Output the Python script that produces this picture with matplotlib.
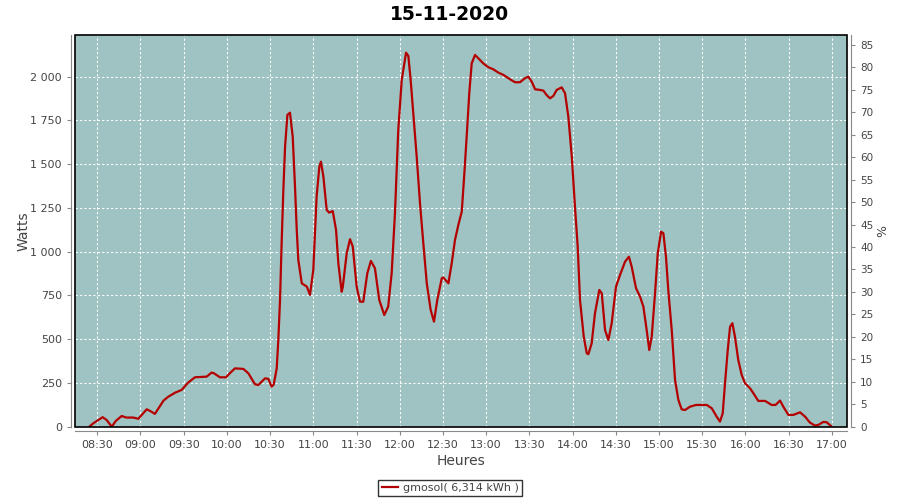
import pandas as pd
import matplotlib
matplotlib.use('Agg')
import matplotlib.pyplot as plt
import matplotlib.dates as mdates
from matplotlib.patches import Rectangle
from matplotlib.ticker import FuncFormatter

# minutes après 08:30 et puissance (W)
minutes = [-5.5, -2.8, 3.7, 6.5, 10, 13, 17, 20, 25, 28.5, 34.3, 36.6, 40, 46, 49.3, 54, 58.6, 63, 67.8,
           76, 79.4, 81, 85.2, 89.4, 92, 95.6, 101.4, 104.9, 109.5, 111.8, 116.5, 118.8, 121, 122.5,
           124.6, 125.7, 126.9, 128, 129.2, 130.4, 132, 133.8, 135.7, 137.3, 138.5, 139.6, 142, 145.5,
           147.7, 150, 152.3, 154.2, 155.3, 157, 159.3, 161, 163.5, 165.8, 167.4, 169.7, 170.5, 173.2,
           175.5, 177.4, 180.1, 182.4, 184.7, 187.5, 190, 192.8, 195.8, 199.3, 202, 204.4, 206.7, 209,
           211.4, 214.4, 216, 217.6, 219.4, 221.8, 224.1, 226.4, 228.8, 231.5, 233.8, 236.1, 239.2,
           240.2, 243.8, 246.1, 248.4, 250.7, 253.1, 254.9, 256.5, 258.3, 260, 262.3, 264.6, 268,
           271.5, 275, 278.5, 282, 286.6, 290.1, 293.5, 297, 299.3, 301.7, 304, 307.4, 309.8, 312,
           314.4, 316.7, 319, 322.5, 324.8, 327.1, 329.5, 331.7, 333.6, 335.2, 337.8, 339.9, 341,
           343.3, 345.6, 348.6, 350.3, 352.6, 354.9, 357.2, 360.2, 363, 366.5, 369.2, 371.1, 374.1,
           376.9, 379.2, 381.5, 383.3, 385, 387.3, 389.2, 391.5, 393.1, 394.9, 396.5, 398.9, 401.2,
           403.5, 405.8, 408.1, 411.6, 415.7, 423.2, 426.7, 430.1, 432.4, 434.3, 435.9, 437.8, 439.4,
           441, 442.8, 445.1, 447.5, 449.8, 453.3, 455.6, 459, 463.7, 468.3, 471, 474.1, 476.4, 479.9,
           483.3, 488, 491.5, 494.9, 498.4, 500.7, 504.2, 506.5, 510]
watts = [0, 19, 54, 38, 0, 34, 61, 52, 52, 45, 99, 90, 73, 149, 171, 194, 210, 251, 282,
         286, 309, 305, 282, 282, 305, 333, 330, 305, 242, 238, 276, 273, 229, 240,
         333, 495, 724, 1048, 1352, 1600, 1781, 1794, 1657, 1371, 1124, 952, 819, 800,
         753, 895, 1314, 1486, 1514, 1429, 1238, 1223, 1232, 1124, 933, 771, 800, 991,
         1071, 1029, 800, 714, 714, 876, 947, 905, 724, 638, 686, 876, 1219, 1695,
         1981, 2137, 2118, 1981, 1791, 1543, 1276, 1048, 819, 667, 600, 724, 848,
         853, 819, 933, 1067, 1152, 1229, 1448, 1657, 1905, 2076, 2124, 2105, 2076,
         2054, 2042, 2023, 2010, 1985, 1968, 1968, 1991, 2000, 1971, 1928, 1924, 1920, 1895,
         1876, 1890, 1924, 1939, 1905, 1771, 1543, 1257, 1029, 724, 514, 419, 414,
         476, 648, 781, 762, 552, 495, 591, 800, 867, 943, 971, 914, 791,
         743, 686, 552, 438, 514, 762, 991, 1114, 1105, 971, 781, 552, 267,
         153, 99, 95, 114, 124, 124, 105, 57, 29, 76, 248, 438, 571,
         591, 514, 381, 295, 248, 219, 191, 147, 147, 124, 124, 149, 114, 67,
         67, 82, 57, 23, 6, 10, 27, 25, 0]

titre = '15-11-2020'
serie = 'gmosol( 6,314 kWh )'
w_ticks = [0, 250, 500, 750, 1000, 1250, 1500, 1750, 2000]
pct_ticks = list(range(0, 90, 5))

t0 = pd.Timestamp('2020-11-15 08:30')
times = t0 + pd.to_timedelta(minutes, unit='min')

fond = '#9ec3c2'
rouge = '#b40000'
gris = '#444444'

fig = plt.figure(figsize=(9, 5), dpi=100)
ax = fig.add_axes([0.0833, 0.1467, 0.8578, 0.7833])
ax.set_facecolor(fond)
ax.plot(times, watts, color=rouge, linewidth=1.6, label=serie)

ax.set_xlim(t0 - pd.Timedelta(minutes=15.5), t0 + pd.Timedelta(minutes=520.6))
ax.set_ylim(0, 2238)
ax.set_yticks(w_ticks)
ax.yaxis.set_major_formatter(FuncFormatter(lambda v, p: '{:,}'.format(int(v)).replace(',', ' ')))
ax.xaxis.set_major_locator(mdates.MinuteLocator(byminute=[0, 30]))
ax.xaxis.set_major_formatter(mdates.DateFormatter('%H:%M'))

ax.grid(True, color='white', linestyle=(0, (2, 2)), linewidth=0.8)

for s in ['top', 'right']:
    ax.spines[s].set_visible(False)
for s in ['left', 'bottom']:
    ax.spines[s].set_position(('outward', 3))
    ax.spines[s].set_color('#888888')
ax.tick_params(colors='#888888', labelcolor=gris, labelsize=8, length=3)

ax.add_patch(Rectangle((0, 0), 1, 1, transform=ax.transAxes, fill=False,
                       edgecolor='black', linewidth=1.2, zorder=5, clip_on=False))

ax.set_ylabel('Watts', fontsize=10, color=gris, labelpad=0)
ax.set_xlabel('Heures', fontsize=10, color=gris, labelpad=3)
fig.text(0.5, 0.972, titre, ha='center', va='center', fontsize=13.5, fontweight='bold')

ax2 = ax.twinx()
ax2.set_ylim(0, 87.2)
ax2.set_yticks(pct_ticks)
for s in ['top', 'left', 'bottom']:
    ax2.spines[s].set_visible(False)
ax2.spines['right'].set_position(('outward', 3))
ax2.spines['right'].set_color('#888888')
ax2.tick_params(colors='#888888', labelcolor=gris, labelsize=7.5, length=3)
ax2.set_ylabel('%', fontsize=9, color=gris, labelpad=2)

leg = fig.legend(loc='center', bbox_to_anchor=(0.5, 0.024), fontsize=8, frameon=True,
                 fancybox=False, handlelength=1.5, handletextpad=0.4, borderpad=0.3,
                 borderaxespad=0)
leg.get_frame().set_edgecolor('black')
leg.get_frame().set_linewidth(1)
for txt in leg.get_texts():
    txt.set_color(gris)

fig.savefig('out.png', dpi=100)
